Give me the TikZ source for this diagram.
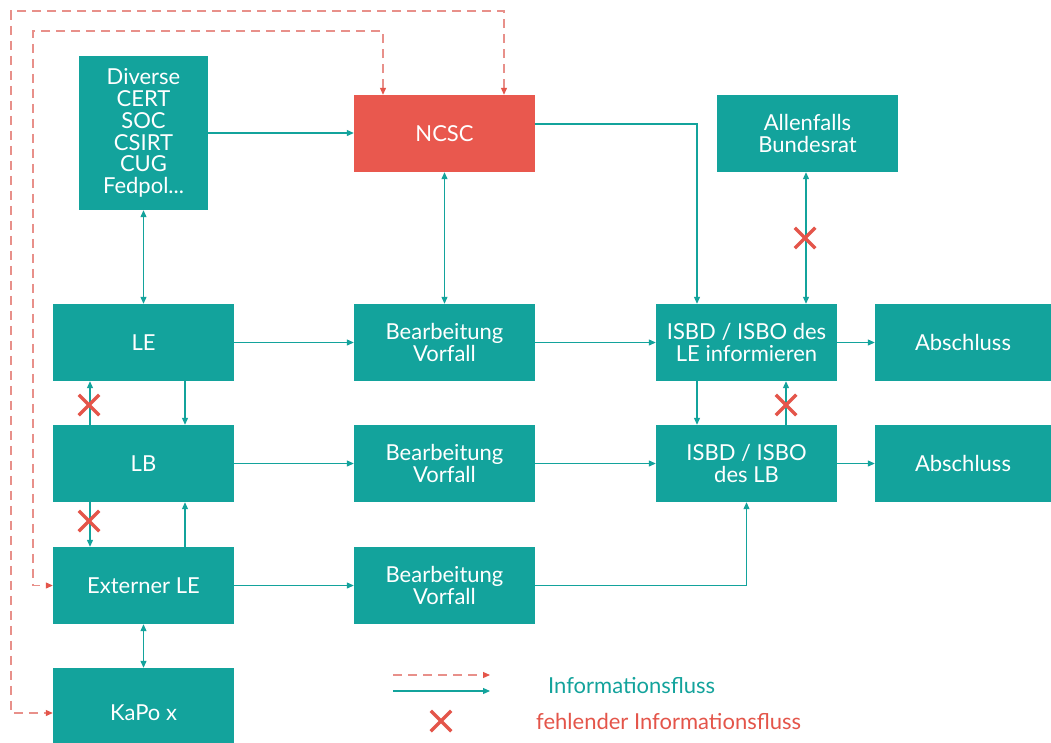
\documentclass[tikz,border=0pt]{standalone}
\usepackage{fontspec}
\setmainfont{Lato}
\usetikzlibrary{arrows.meta,shapes.misc,calc}
\definecolor{tealc}{HTML}{13A39C}
\definecolor{ncscred}{HTML}{E9584E}
\definecolor{dashred}{HTML}{E8908A}
\definecolor{xred}{HTML}{E4554A}
\begin{document}
\begin{tikzpicture}[x=1pt,y=-1pt,
  box/.style={fill=tealc,text=white,minimum width=181pt,minimum height=77pt,inner sep=0pt,align=center,font=\fontsize{22}{21.8}\selectfont},
  flow/.style={draw=tealc,line width=1.1pt,-{Triangle[length=7pt,width=6pt]}},
  flowb/.style={draw=tealc,line width=1.1pt,{Triangle[length=7pt,width=6pt]}-{Triangle[length=7pt,width=6pt]}},
  dflow/.style={draw=dashred,line width=1.1pt,dash pattern=on 9pt off 6pt,{Triangle[length=7pt,width=6pt,color=xred]}-{Triangle[length=7pt,width=6pt,color=xred]}},
  dflowl/.style={draw=dashred,line width=1.1pt,dash pattern=on 9pt off 6pt,-{Triangle[length=7pt,width=6pt,color=xred]}},
  xm/.style={cross out,draw=xred,line width=3.5pt,minimum size=17pt,inner sep=0pt}]
\useasboundingbox (0,0) rectangle (1051,742);
\fill[white] (0,0) rectangle (1051,742);
% nodes
\node[box,minimum width=129pt,minimum height=154pt] (Div) at (143.5,133) {Diverse\\CERT\\SOC\\CSIRT\\CUG\\Fedpol...};
\node[box,fill=ncscred] (NCSC) at (444.5,133.5) {NCSC};
\node[box] (All) at (807.5,133.5) {Allenfalls\\Bundesrat};
\node[box] (LE) at (143.5,342.5) {LE};
\node[box] (B1) at (444.5,342.5) {Bearbeitung\\Vorfall};
\node[box] (I1) at (746.5,342.5) {ISBD / ISBO des\\LE informieren};
\node[box,minimum width=176pt] (A1) at (963,342.5) {Abschluss};
\node[box] (LB) at (143.5,463.5) {LB};
\node[box] (B2) at (444.5,463.5) {Bearbeitung\\Vorfall};
\node[box] (I2) at (746.5,463.5) {ISBD / ISBO\\des LB};
\node[box,minimum width=176pt] (A2) at (963,463.5) {Abschluss};
\node[box] (Ext) at (143.5,585.5) {Externer LE};
\node[box] (B3) at (444.5,585.5) {Bearbeitung\\Vorfall};
\node[box,minimum height=90pt] (KaPo) at (143.5,713) {KaPo x};
% connectors
\draw[flow] (Div.east) -- (Div.east -| NCSC.west);
\draw[flowb] (Div.south) -- (LE.north);
\draw[flowb] (NCSC.south) -- (B1.north);
\draw[flow] ([yshift=9.5pt]NCSC.east) -| ([xshift=-49.5pt]I1.north);
\draw[flowb] ([xshift=-1.5pt]All.south) -- ([xshift=59.5pt]I1.north);
\draw[flow] (LE.east) -- (B1.west);
\draw[flow] (B1.east) -- (I1.west);
\draw[flow] (I1.east) -- (A1.west);
\draw[flow] (LB.east) -- (B2.west);
\draw[flow] (B2.east) -- (I2.west);
\draw[flow] (I2.east) -- (A2.west);
\draw[flow] (Ext.east) -- (B3.west);
\draw[flow] (B3.east) -| (I2.south);
\draw[flow] ([xshift=41.5pt]LE.south) -- ([xshift=41.5pt]LB.north);
\draw[flow] ([xshift=-53.5pt]LB.north) -- ([xshift=-53.5pt]LE.south);
\draw[flow] ([xshift=-53.5pt]LB.south) -- ([xshift=-53.5pt]Ext.north);
\draw[flow] ([xshift=41.5pt]Ext.north) -- ([xshift=41.5pt]LB.south);
\draw[flow] ([xshift=-49.5pt]I1.south) -- ([xshift=-49.5pt]I2.north);
\draw[flow] ([xshift=39.5pt]I2.north) -- ([xshift=39.5pt]I1.south);
\draw[flowb] (Ext.south) -- (KaPo.north);
% dashed
\coordinate (o1) at (11,11);
\coordinate (o2) at (33,31);
\draw[dflow] ([xshift=59.5pt]NCSC.north) |- (o1) |- (KaPo.west);
\draw[dflow] ([xshift=-61.5pt]NCSC.north) |- (o2) |- (Ext.west);
% crosses
\node[xm] (x1) at (805,238) {};
\node[xm] (x2) at (89,405) {};
\node[xm] (x3) at (786,405) {};
\node[xm] (x4) at (89,521) {};
% legend
\coordinate (la) at (393,675);
\coordinate (lb) at (490,675);
\coordinate (lc) at (393,691);
\coordinate (ld) at (490,691);
\draw[dflowl] (la) -- (lb);
\draw[flow] (lc) -- (ld);
\node[xm] (x5) at (441,721) {};
\node[text=tealc,font=\fontsize{22}{22}\selectfont,anchor=west,inner sep=0pt] (t1) at (548,686) {Informationsfluss};
\node[text=xred,font=\fontsize{22}{22}\selectfont,anchor=west,inner sep=0pt] (t2) at (536,721) {fehlender Informationsfluss};
\end{tikzpicture}
\end{document}
